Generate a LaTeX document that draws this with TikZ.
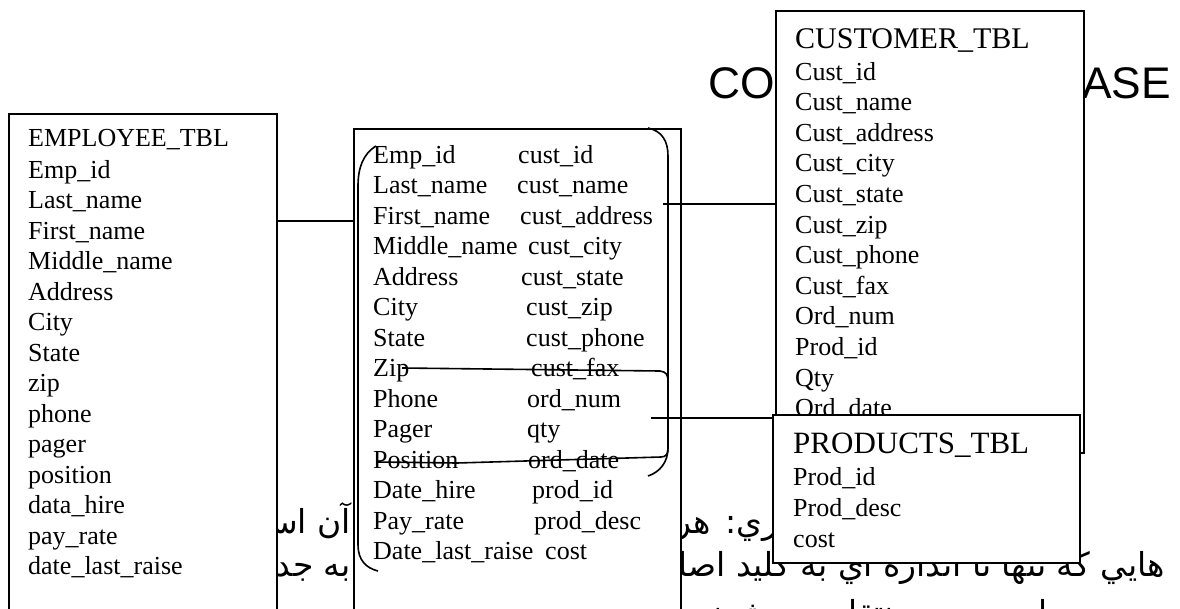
\documentclass[tikz,border=0pt]{standalone}
\usepackage{fontspec}
\setmainfont{Liberation Serif}
\newfontfamily\titlefont{Liberation Sans}
\newfontfamily\arabicfont[Script=Arabic]{DejaVu Sans}
\TeXXeTstate=1
\begin{document}
\begin{tikzpicture}[x=1pt,y=-1pt,
  tblbox/.style={draw, line width=1.6pt, fill=white, inner sep=0pt, anchor=north west},
  fld/.style={font=\fontsize{26}{30}\selectfont, inner sep=0pt, anchor=base west},
  hdr/.style={font=\fontsize{30}{34}\selectfont, inner sep=0pt, anchor=base west},
  ar/.style={font=\fontsize{33}{38}\arabicfont, inner sep=0pt, anchor=base east},
  link/.style={line width=1.5pt},
  brk/.style={line width=1.6pt}]
\useasboundingbox (0,0) rectangle (1180,608);
\clip (0,0) rectangle (1180,608);
\fill[white] (0,0) rectangle (1180,608);

% background title and Persian text
\node[inner sep=0pt, anchor=base west, font=\fontsize{44.3}{50}\titlefont] (title) at (708,98) {COMPANY DATABASE};
\node[ar] (a1r) at (832,533) {\beginR مركزي: هر ستون\endR};
\node[ar] (a1l) at (351,533) {\beginR آن است\endR};
\node[ar] (a2r) at (1165,576) {\beginR هايي كه تنها تا اندازه اي به كليد اصلي\endR};
\node[ar] (a2l) at (351,576) {\beginR به جدول\endR};
\node[ar] (a3) at (1165,624) {\beginR و به جدول جديدي منتقل مي شوند\endR};

% EMPLOYEE_TBL
\node[tblbox, minimum width=268pt, minimum height=520pt] (emp) at (8,113) {};
\node[fld] (eh) at (28,146) {EMPLOYEE\_TBL};
\foreach \t [count=\i from 0] in {Emp\_id, Last\_name, First\_name, Middle\_name, Address, City, State, zip, phone, pager, position, data\_hire, pay\_rate, date\_last\_raise}
  \node[fld] (e\i) at (28,178+30.5*\i) {\t};

% middle box
\node[tblbox, minimum width=327pt, minimum height=500pt] (mid) at (353,128) {};
\foreach \t [count=\i from 0] in {Emp\_id, Last\_name, First\_name, Middle\_name, Address, City, State, Zip, Phone, Pager, Position, Date\_hire, Pay\_rate, Date\_last\_raise}
  \node[fld] (ml\i) at (373,163+30.5*\i) {\t};
\foreach \t/\x [count=\i from 0] in {cust\_id/518, cust\_name/517, cust\_address/520, cust\_city/528, cust\_state/521, cust\_zip/526, cust\_phone/526, cust\_fax/531, ord\_num/527, qty/527, ord\_date/528, prod\_id/532, prod\_desc/534, cost/545}
  \node[fld] (mr\i) at (\x,163+30.5*\i) {\t};

% brackets drawn inside the middle box
\draw[brk] (376,146) .. controls (363,154) and (358,168) .. (358,186) -- (358,545) .. controls (358,560) and (366,568) .. (378,571);
\draw[brk] (648,128) .. controls (662,131) and (668,141) .. (668,156) -- (668,448) .. controls (668,462) and (660,472) .. (648,476);
\draw[brk] (402,368) -- (660,371) .. controls (666,372) and (668,374) .. (668,382);
\draw[brk] (668,448) .. controls (668,454) and (666,457) .. (661,457) -- (457,463) -- (378,462);

% CUSTOMER_TBL
\node[tblbox, minimum width=308pt, minimum height=442pt] (cust) at (775,10) {};
\node[hdr] (ch) at (795,48) {CUSTOMER\_TBL};
\foreach \t [count=\i from 0] in {Cust\_id, Cust\_name, Cust\_address, Cust\_city, Cust\_state, Cust\_zip, Cust\_phone, Cust\_fax, Ord\_num, Prod\_id, Qty, Ord\_date}
  \node[fld] (c\i) at (795,80+30.6*\i) {\t};

% PRODUCTS_TBL
\node[tblbox, minimum width=307pt, minimum height=148pt] (prod) at (772,414) {};
\node[hdr, font=\fontsize{31}{35}\selectfont] (ph) at (793,453) {PRODUCTS\_TBL};
\node[fld] (p0) at (793,485) {Prod\_id};
\node[fld] (p1) at (793,516) {Prod\_desc};
\node[fld] (p2) at (793,547) {cost};

% connectors
\coordinate (r1) at (0,221);
\draw[link] (emp.east |- r1) -- (mid.west |- r1);
\coordinate (s2) at (663,204);
\draw[link] (s2) -- (cust.west |- s2);
\coordinate (s3) at (651,418);
\draw[link] (s3) -- (prod.west |- s3);
\end{tikzpicture}
\end{document}
